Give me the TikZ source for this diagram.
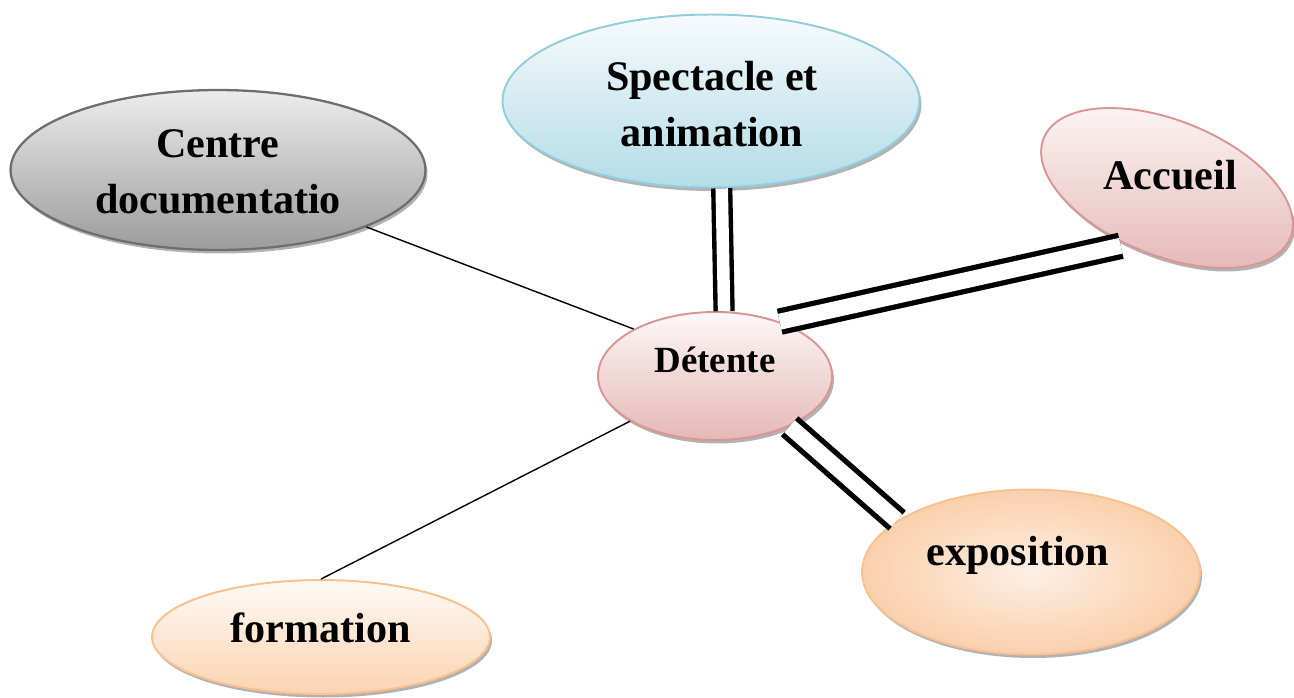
\documentclass[tikz,border=0pt]{standalone}
\usepackage{fontspec}
\setmainfont{Liberation Serif}
\usetikzlibrary{shapes.geometric,shadows}
\definecolor{greyedge}{HTML}{6E6E6E}
\definecolor{greytop}{HTML}{ECECEC}
\definecolor{greybot}{HTML}{9C9C9C}
\definecolor{blueedge}{HTML}{93CDDD}
\definecolor{bluetop}{HTML}{F6FBFD}
\definecolor{bluebot}{HTML}{B4DCE7}
\definecolor{pinkedge}{HTML}{D99694}
\definecolor{pinktop}{HTML}{FDF7F7}
\definecolor{pinkbot}{HTML}{E5B8B7}
\definecolor{peachedge}{HTML}{FAC090}
\definecolor{peachtop}{HTML}{FFFAF5}
\definecolor{peachbot}{HTML}{FBD3B2}
\definecolor{peachin}{HTML}{FDEFE5}
\definecolor{peachout}{HTML}{FAD0AC}

\begin{document}
\begin{tikzpicture}[x=0.02cm,y=-0.02cm,
    bubble/.style={ellipse,draw,line width=1.1pt,inner sep=0pt,
        drop shadow={shadow xshift=0.04cm,shadow yshift=-0.07cm,fill=black,opacity=0.3}},
    lbl/.style={font=\bfseries\fontsize{24}{32}\selectfont,align=center,inner sep=0pt},
    thinlink/.style={line width=0.8pt},
    twinlink/.style={line width=3pt,double=white,double distance=0.32cm}]
    \useasboundingbox (0,0) rectangle (1294,697);

    % the six bubbles
    \node[bubble,draw=greyedge,line width=1.3pt,top color=greytop,bottom color=greybot,minimum width=8.3cm,minimum height=3.2cm] (cdoc) at (218,170) {};
    \node[bubble,draw=blueedge,top color=bluetop,bottom color=bluebot,minimum width=8.34cm,minimum height=3.46cm] (spec) at (711,101) {};
    \node[bubble,draw=pinkedge,top color=pinktop,bottom color=pinkbot,minimum width=5.32cm,minimum height=2.7cm,rotate=-22] (acc) at (1167,188) {};
    \node[bubble,draw=pinkedge,top color=pinktop,bottom color=pinkbot,minimum width=4.68cm,minimum height=2.56cm] (det) at (715,376) {};
    \node[bubble,draw=peachedge,inner color=peachin,outer color=peachout,minimum width=6.76cm,minimum height=3.3cm] (expo) at (1031,572) {};
    \node[bubble,draw=peachedge,top color=peachtop,bottom color=peachbot,minimum width=6.76cm,minimum height=2.28cm] (form) at (321,637) {};

    % texts
    \node[lbl] (cdoc-t) at (218,172) {Centre\\documentatio};
    \node[lbl] (spec-t) at (712,104) {Spectacle et\\animation};
    \node[lbl] (acc-t) at (1170,175) {Accueil};
    \node[lbl,font=\bfseries\fontsize{21}{26}\selectfont] (det-t) at (715,360) {Détente};
    \node[lbl] (expo-t) at (1018,555) {exposition};
    \node[lbl] (form-t) at (321,628) {formation};

    % links
    \draw[thinlink] (cdoc.339) -- (det.150);
    \draw[thinlink] (form.north) -- (det.208);
    \draw[twinlink,line width=2.5pt,double distance=0.25cm] (det.82) -- (spec.277);
    \draw[twinlink,shorten >=3pt] (det.40) -- (acc.256);
    \draw[twinlink] (det.326) -- (expo.159);
\end{tikzpicture}
\end{document}
